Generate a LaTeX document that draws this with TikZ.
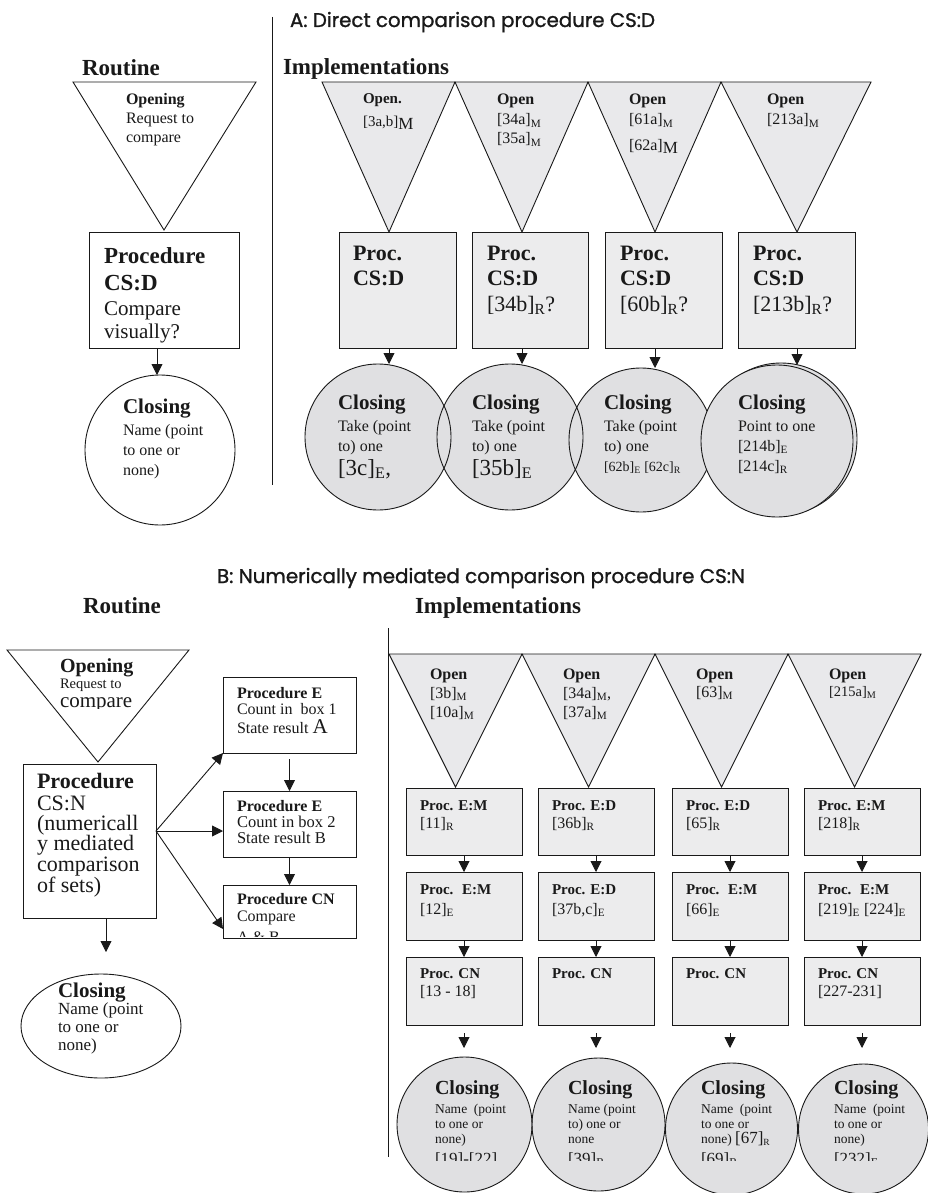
\documentclass[tikz,border=0pt]{standalone}
\usepackage{fontspec}
\setmainfont{Liberation Serif}
\newfontfamily\titlefont{Poppins}[FakeBold=1.2]
\usetikzlibrary{arrows.meta,shapes.geometric}
\definecolor{trifill}{RGB}{233,233,235}
\definecolor{boxfill}{RGB}{236,236,237}
\definecolor{circfill}{RGB}{224,224,226}
\definecolor{ink}{RGB}{25,25,25}
\newcommand\fs[2]{\fontsize{#1}{#2}\selectfont}
\newcommand\sbs[1]{\textsubscript{#1}}
\newcommand\bsub[1]{\raisebox{-2.5pt}{\fs{17}{17}#1}}
\begin{document}
\begin{tikzpicture}[x=1pt,y=-1pt,
  ln/.style={line width=0.9pt, draw=ink},
  tri/.style={ln, fill=trifill, line join=miter},
  wtri/.style={ln, fill=white, line join=miter},
  pbox/.style={ln, fill=boxfill, anchor=north west, inner sep=0pt, outer sep=0pt},
  wbox/.style={ln, fill=white, anchor=north west, inner sep=0pt, outer sep=0pt},
  cfill/.style={circle, fill=circfill, inner sep=0pt, outer sep=0pt},
  arr/.style={ln, -{Triangle[length=11pt,width=11pt]}},
  txt/.style={anchor=base west, inner sep=0pt, outer sep=0pt, text=ink},
  hd/.style={txt, font=\bfseries\fs{23}{27}},
  ttl/.style={txt, font=\titlefont}
]
\useasboundingbox (0,0) rectangle (928,1193);
\fill[white] (0,0) rectangle (928,1193);

% ================= PART A =================
\node[ttl] (titleA) at (290,27) {\resizebox{365pt}{!}{A: Direct comparison procedure CS:D}};
\draw[ln] (272,17) -- (272,485);
\node[hd] (routA) at (82,76) {Routine};
\node[hd] (implA) at (283,75) {Implementations};

% routine
\draw[wtri] (73,82) -- (256,82) -- (164,230) -- cycle;
\coordinate (rap) at (164,230);
\node[txt, font=\bfseries\fs{16}{19}] (ro1) at (126,105) {Opening};
\node[txt, font=\fs{16}{19}] (ro2) at (126,124) {Request to};
\node[txt, font=\fs{16}{19}] (ro3) at (126,143) {compare};

\node[wbox, minimum width=150pt, minimum height=116pt] (rb) at (89,232) {};
\node[txt, font=\bfseries\fs{23}{27}] (rb1) at (104,263) {Procedure};
\node[txt, font=\bfseries\fs{23}{27}] (rb2) at (104,290) {CS:D};
\node[txt, font=\fs{21}{24}] (rb3) at (104,315) {Compare};
\node[txt, font=\fs{21}{24}] (rb4) at (104,338) {visually?};

\node[circle, ln, fill=white, minimum size=150pt, inner sep=0pt, outer sep=0pt] (rc) at (160,450) {};
\draw[arr] ([xshift=-7pt]rb.south) -- ([xshift=-3pt]rc.north);
\node[txt, font=\bfseries\fs{21}{24}] (rc1) at (123,413) {Closing};
\node[txt, font=\fs{16}{19}] (rc2) at (123,435) {Name (point};
\node[txt, font=\fs{16}{19}] (rc3) at (123,455) {to one or};
\node[txt, font=\fs{16}{19}] (rc4) at (123,475) {none)};

% implementations A: triangles
\draw[tri] (322,82) -- (455,82) -- (389,232) -- cycle;
\draw[tri] (455,82) -- (588,82) -- (522,232) -- cycle;
\draw[tri] (588,82) -- (721,82) -- (655,232) -- cycle;
\draw[tri] (721,82) -- (871,82) -- (797,232) -- cycle;
\coordinate (ap1) at (389,232);
\coordinate (ap2) at (522,232);
\coordinate (ap3) at (655,232);
\coordinate (ap4) at (797,232);

\node[txt, font=\bfseries\fs{15}{18}] (o11) at (363,104) {Open.};
\node[txt, font=\fs{15}{18}] (o12) at (363,127) {[3a,b]\bsub{M}};
\node[txt, font=\bfseries\fs{16}{19}] (o21) at (497,105) {Open};
\node[txt, font=\fs{16}{19}] (o22) at (497,125) {[34a]\sbs{M}};
\node[txt, font=\fs{16}{19}] (o23) at (497,144) {[35a]\sbs{M}};
\node[txt, font=\bfseries\fs{16}{19}] (o31) at (629,105) {Open};
\node[txt, font=\fs{16}{19}] (o32) at (629,125) {[61a]\sbs{M}};
\node[txt, font=\fs{16}{19}] (o33) at (629,151) {[62a]\bsub{M}};
\node[txt, font=\bfseries\fs{16}{19}] (o41) at (767,105) {Open};
\node[txt, font=\fs{16}{19}] (o42) at (767,125) {[213a]\sbs{M}};

% boxes
\node[pbox, minimum width=117pt, minimum height=116pt] (a1) at (339,232) {};
\node[pbox, minimum width=116pt, minimum height=116pt] (a2) at (472,232) {};
\node[pbox, minimum width=117pt, minimum height=116pt] (a3) at (605,232) {};
\node[pbox, minimum width=117pt, minimum height=116pt] (a4) at (738,232) {};
\foreach \n/\x in {1/353,2/487,3/620,4/753}{
  \node[txt, font=\bfseries\fs{22}{26}] (p\n a) at (\x,260) {Proc.};
  \node[txt, font=\bfseries\fs{22}{26}] (p\n b) at (\x,285) {CS:D};
}
\node[txt, font=\fs{22}{26}] (p2c) at (487,311) {[34b]\sbs{R}?};
\node[txt, font=\fs{22}{26}] (p3c) at (620,311) {[60b]\sbs{R}?};
\node[txt, font=\fs{22}{26}] (p4c) at (753,311) {[213b]\sbs{R}?};

% circles
\node[cfill, minimum size=146pt] (c1) at (378,437) {};
\node[cfill, minimum size=146pt] (c2) at (510,437) {};
\node[cfill, minimum size=144pt] (c3) at (641,440) {};
\node[cfill, minimum size=152pt] (c4b) at (781,439) {};
\node[cfill, minimum size=152pt] (c4) at (777,441) {};
\draw[ln] (c1.center) circle[radius=73pt];
\draw[ln] (c2.center) circle[radius=73pt];
\draw[ln] (c3.center) circle[radius=72pt];
\draw[ln] (c4b.center) circle[radius=76pt];
\fill[circfill] (c4.center) circle[radius=76pt];
\draw[ln] (c4.center) circle[radius=76pt];

\draw[arr] (a1.south -| ap1) -- (c1.north -| ap1);
\draw[arr] (a2.south -| ap2) -- (c2.north -| ap2);
\draw[arr] (a3.south -| ap3) -- (c3.north -| ap3);
\draw[arr] (a4.south -| ap4) -- (c4.north -| ap4);

\foreach \n/\x in {1/338,2/472,3/604,4/738}{
  \node[txt, font=\bfseries\fs{21}{24}] (k\n a) at (\x,409) {Closing};
}
\foreach \n/\x in {1/338,2/472,3/604}{
  \node[txt, font=\fs{16}{19}] (k\n b) at (\x,431) {Take (point};
  \node[txt, font=\fs{16}{19}] (k\n c) at (\x,451) {to) one};
}
\node[txt, font=\fs{23}{26}] (k1d) at (338,475) {[3c]\sbs{E},};
\node[txt, font=\fs{23}{26}] (k2d) at (472,475) {[35b]\sbs{E}};
\node[txt, font=\fs{14}{16}] (k3d) at (604,471) {[62b]\sbs{E} [62c]\sbs{R}};
\node[txt, font=\fs{16}{19}] (k4b) at (738,431) {Point to one};
\node[txt, font=\fs{16}{19}] (k4c) at (738,451) {[214b]\sbs{E}};
\node[txt, font=\fs{16}{19}] (k4d) at (738,471) {[214c]\sbs{R}};

% ================= PART B =================
\node[ttl] (titleB) at (217,583) {\resizebox{528pt}{!}{B: Numerically mediated comparison procedure CS:N}};
\node[hd] (routB) at (83,613) {Routine};
\node[hd] (implB) at (415,613) {Implementations};
\draw[ln] (388,628) -- (388,1157);

% routine B
\draw[wtri] (7,650) -- (189,650) -- (98,762) -- cycle;
\node[txt, font=\bfseries\fs{20}{23}] (bo1) at (60,672) {Opening};
\node[txt, font=\fs{14.5}{17}] (bo2) at (60,688) {Request to};
\begin{scope}
  \clip (0,690) rectangle (200,708.5);
  \node[txt, font=\fs{21}{24}] (bo3) at (60,707) {compare};
\end{scope}

\node[wbox, minimum width=133pt, minimum height=154pt] (pb) at (23,764) {};
\node[txt, font=\bfseries\fs{22}{26}] (pb1) at (37,788) {Procedure};
\node[txt, font=\fs{22}{26}] (pb2) at (37,810) {CS:N};
\node[txt, font=\fs{22}{26}] (pb3) at (37,830) {(numericall};
\node[txt, font=\fs{22}{26}] (pb4) at (37,850) {y mediated};
\node[txt, font=\fs{22}{26}] (pb5) at (37,871) {comparison};
\node[txt, font=\fs{22}{26}] (pb6) at (37,892) {of sets)};

\node[ellipse, ln, fill=white, minimum width=160pt, minimum height=104pt, inner sep=0pt, outer sep=0pt] (pc) at (101,1026) {};
\coordinate (pe) at (106,952);
\draw[arr] (pb.south -| pe) -- (pe);
\node[txt, font=\bfseries\fs{21}{24}] (pc1) at (58,997) {Closing};
\node[txt, font=\fs{17}{20}] (pc2) at (58,1014) {Name (point};
\node[txt, font=\fs{17}{20}] (pc3) at (58,1032) {to one or};
\node[txt, font=\fs{17}{20}] (pc4) at (58,1050) {none)};

% procedures E, E, CN
\node[wbox, minimum width=133pt, minimum height=76pt] (e1) at (223,677) {};
\node[wbox, minimum width=133pt, minimum height=66pt] (e2) at (223,791) {};
\node[wbox, minimum width=133pt, minimum height=53pt] (e3) at (223,885) {};
\node[txt, font=\bfseries\fs{16}{19}] (e1a) at (237,698) {Procedure E};
\node[txt, font=\fs{16}{19}] (e1b) at (237,714) {Count in \ box 1};
\node[txt, font=\fs{16}{19}] (e1c) at (237,733) {State result {\fs{21}{24}A}};
\node[txt, font=\bfseries\fs{16}{19}] (e2a) at (237,811) {Procedure E};
\node[txt, font=\fs{16.5}{19}] (e2b) at (237,827) {Count in box 2};
\node[txt, font=\fs{16.5}{19}] (e2c) at (237,843) {State result B};
\node[txt, font=\bfseries\fs{16}{19}] (e3a) at (237,904) {Procedure CN};
\node[txt, font=\fs{16}{19}] (e3b) at (237,921) {Compare};
\begin{scope}
  \clip (223,922) rectangle (356,936.5);
  \node[txt, font=\fs{16}{19}] (e3c) at (237,942) {A \& B};
\end{scope}
\draw[arr] ([yshift=-6pt]e1.south) -- (e2.north);
\draw[arr] (e2.south) -- (e3.north);
\coordinate (fan) at (156,831);
\draw[arr] (fan) -- (e1.south west);
\draw[arr] (fan) -- (fan -| e2.west);
\draw[arr] (fan) -- ([yshift=9pt]e3.south west);

% implementations B: triangles
\draw[tri] (389,654) -- (522,654) -- (455.5,787) -- cycle;
\draw[tri] (522,654) -- (655,654) -- (588.5,787) -- cycle;
\draw[tri] (655,654) -- (788,654) -- (721.5,787) -- cycle;
\draw[tri] (788,654) -- (921,654) -- (854.5,787) -- cycle;
\foreach \n/\x in {1/430,2/563,3/696,4/829}{
  \node[txt, font=\bfseries\fs{16}{19}] (q\n a) at (\x,679) {Open};
}
\node[txt, font=\fs{16}{19}] (q1b) at (430,698) {[3b]\sbs{M}};
\node[txt, font=\fs{16}{19}] (q1c) at (430,717) {[10a]\sbs{M}};
\node[txt, font=\fs{16}{19}] (q2b) at (563,698) {[34a]\sbs{M},};
\node[txt, font=\fs{16}{19}] (q2c) at (563,717) {[37a]\sbs{M}};
\node[txt, font=\fs{16}{19}] (q3b) at (696,697) {[63]\sbs{M}};
\node[txt, font=\fs{14.5}{17}] (q4b) at (829,696) {[215a]\sbs{M}};

% boxes rows
\foreach \n/\x in {1/406,2/538,3/672,4/804}{
  \node[pbox, minimum width=116pt, minimum height=67pt] (r\n a) at (\x,788) {};
  \node[pbox, minimum width=116pt, minimum height=68pt] (r\n b) at (\x,872) {};
  \node[pbox, minimum width=116pt, minimum height=68pt] (r\n c) at (\x,957) {};
  \draw[arr] (r\n a.south) -- (r\n b.north);
  \draw[arr] (r\n b.south) -- (r\n c.north);
}
\node[txt, font=\bfseries\fs{15}{18}] (s1a) at (420,810) {Proc. E:M};
\node[txt, font=\fs{16}{19}] (s1b) at (420,828) {[11]\sbs{R}};
\node[txt, font=\bfseries\fs{15}{18}] (s2a) at (552,810) {Proc. E:D};
\node[txt, font=\fs{16}{19}] (s2b) at (552,828) {[36b]\sbs{R}};
\node[txt, font=\bfseries\fs{15}{18}] (s3a) at (686,810) {Proc. E:D};
\node[txt, font=\fs{16}{19}] (s3b) at (686,828) {[65]\sbs{R}};
\node[txt, font=\bfseries\fs{15}{18}] (s4a) at (818,810) {Proc. E:M};
\node[txt, font=\fs{16}{19}] (s4b) at (818,828) {[218]\sbs{R}};

\node[txt, font=\bfseries\fs{15}{18}] (u1a) at (420,894) {Proc. \ E:M};
\node[txt, font=\fs{16}{19}] (u1b) at (420,914) {[12]\sbs{E}};
\node[txt, font=\bfseries\fs{15}{18}] (u2a) at (552,894) {Proc. E:D};
\node[txt, font=\fs{16}{19}] (u2b) at (552,914) {[37b,c]\sbs{E}};
\node[txt, font=\bfseries\fs{15}{18}] (u3a) at (686,894) {Proc. \ E:M};
\node[txt, font=\fs{16}{19}] (u3b) at (686,914) {[66]\sbs{E}};
\node[txt, font=\bfseries\fs{15}{18}] (u4a) at (818,894) {Proc. \ E:M};
\node[txt, font=\fs{16}{19}] (u4b) at (818,914) {[219]\sbs{E} [224]\sbs{E}};

\foreach \n/\x in {1/420,2/552,3/686,4/818}{
  \node[txt, font=\bfseries\fs{15}{18}] (w\n a) at (\x,978) {Proc. CN};
}
\node[txt, font=\fs{16}{19}] (w1b) at (420,996) {[13 - 18]};
\node[txt, font=\fs{16}{19}] (w4b) at (818,996) {[227-231]};

% closing circles B
\node[cfill, minimum size=135pt] (d1) at (464.5,1124.5) {};
\node[cfill, minimum size=133pt] (d2) at (598.5,1124.5) {};
\node[cfill, minimum size=132pt] (d3) at (731.5,1129) {};
\node[cfill, minimum size=130pt] (d4) at (863.5,1129) {};
\draw[ln] (d1.center) circle[radius=67.5pt];
\draw[ln] (d2.center) circle[radius=66.5pt];
\draw[ln] (d3.center) circle[radius=66pt];
\draw[ln] (d4.center) circle[radius=65pt];
\foreach \n in {1,2,3,4}{
  \draw[arr] ([yshift=-8pt]r\n c.south) -- (r\n c.south |- 0,1048);
}
\foreach \n/\x in {1/435,2/568,3/701,4/834}{
  \node[txt, font=\bfseries\fs{20}{23}] (z\n a) at (\x,1094) {Closing};
}
\node[txt, font=\fs{13.5}{15}] (z1b) at (435,1113) {Name \ (point};
\node[txt, font=\fs{13.5}{15}] (z1c) at (435,1128) {to one or};
\node[txt, font=\fs{13.5}{15}] (z1d) at (435,1143) {none)};
\node[txt, font=\fs{13.5}{15}] (z2b) at (568,1113) {Name (point};
\node[txt, font=\fs{13.5}{15}] (z2c) at (568,1128) {to) one or};
\node[txt, font=\fs{13.5}{15}] (z2d) at (568,1143) {none};
\node[txt, font=\fs{13.5}{15}] (z3b) at (701,1113) {Name \ (point};
\node[txt, font=\fs{13.5}{15}] (z3c) at (701,1128) {to one or};
\node[txt, font=\fs{13.5}{15}] (z3d) at (701,1143) {none) {\fs{17}{19}[67]}\sbs{R}};
\node[txt, font=\fs{13.5}{15}] (z4b) at (834,1113) {Name \ (point};
\node[txt, font=\fs{13.5}{15}] (z4c) at (834,1128) {to one or};
\node[txt, font=\fs{13.5}{15}] (z4d) at (834,1143) {none)};
\begin{scope}
  \clip (380,1145) rectangle (928,1160);
  \node[txt, font=\fs{17}{19}] (z1e) at (435,1164) {[19]-[22]};
  \node[txt, font=\fs{17}{19}] (z2e) at (568,1164) {[39]\sbs{R}};
  \node[txt, font=\fs{17}{19}] (z3e) at (701,1164) {[69]\sbs{R}};
  \node[txt, font=\fs{17}{19}] (z4e) at (834,1164) {[232]\sbs{E}};
\end{scope}
\end{tikzpicture}
\end{document}
